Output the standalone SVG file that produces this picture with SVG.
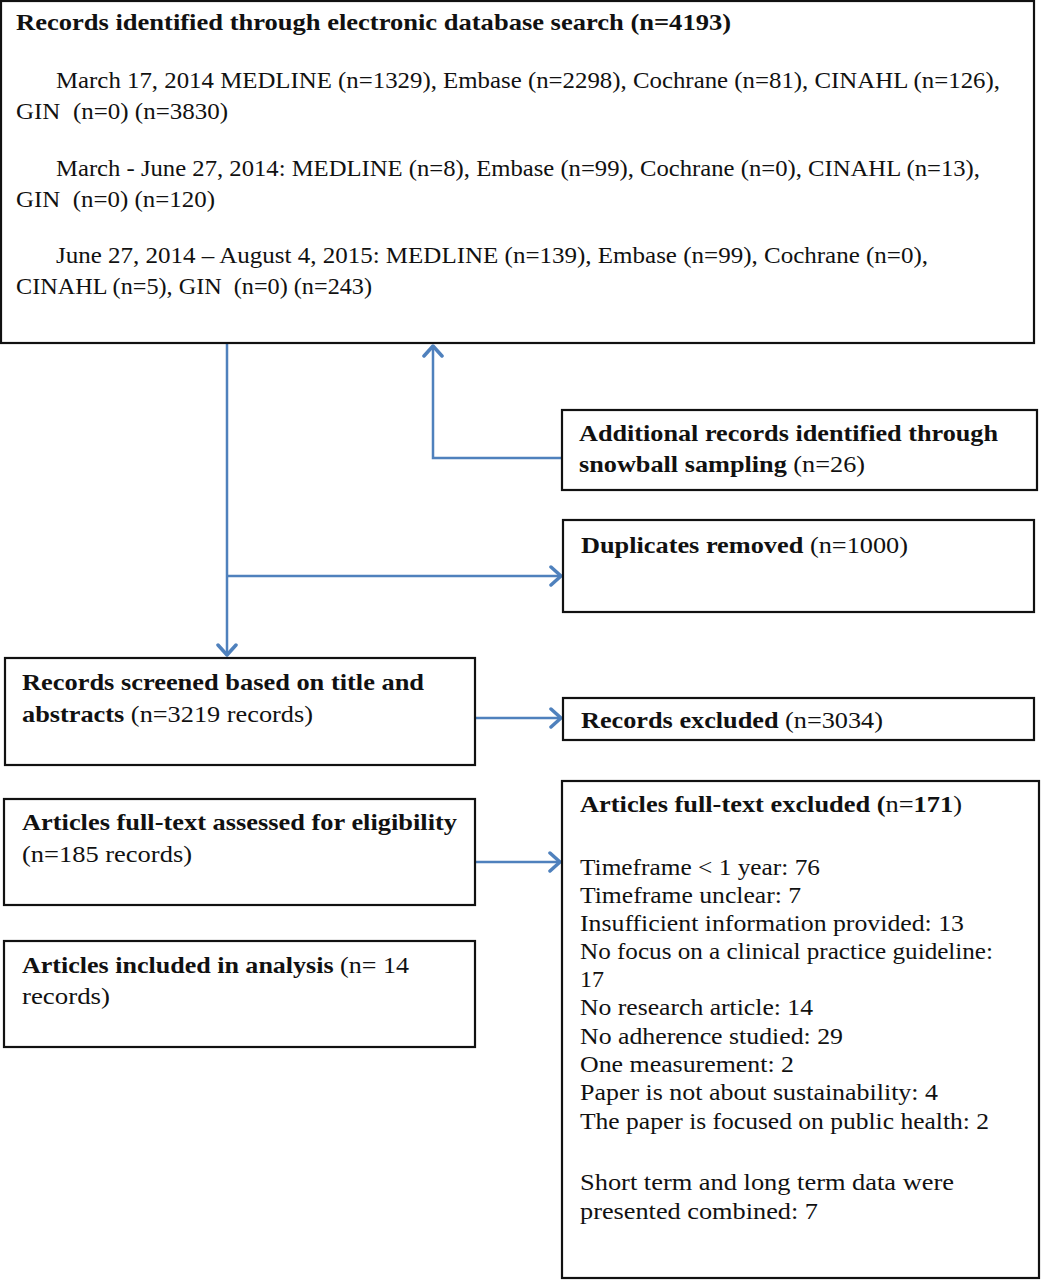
<svg xmlns="http://www.w3.org/2000/svg" width="1042" height="1280" viewBox="0 0 1042 1280">
<defs>
<style>
.box{fill:#fff;stroke:#111;stroke-width:2.2}
.t{font-family:"Liberation Serif","Times New Roman",serif;font-size:24px;fill:#111}
.b{font-weight:bold}
.con{fill:none;stroke:#4f81bd;stroke-width:2.5}
</style>
<marker id="ah" markerWidth="16" markerHeight="22" refX="13" refY="11" orient="auto" markerUnits="userSpaceOnUse">
<path d="M3,2 L13,11 L3,20" fill="none" stroke="#4f81bd" stroke-width="3.5" stroke-linecap="round" stroke-linejoin="round"/>
</marker>
</defs>
<rect width="1042" height="1280" fill="#fff"/>
<g id="connectors">
<path class="con" d="M227,343 V655" marker-end="url(#ah)"/>
<path class="con" d="M227,576 H561" marker-end="url(#ah)"/>
<path class="con" d="M562,458 H433 V346" marker-end="url(#ah)"/>
<path class="con" d="M475,718 H561" marker-end="url(#ah)"/>
<path class="con" d="M475,862 H560" marker-end="url(#ah)"/>
</g>
<g id="n-search">
<rect class="box" x="1" y="1" width="1033" height="342"/>
<text class="t b" x="16" y="30" textLength="715" lengthAdjust="spacingAndGlyphs">Records identified through electronic database search (n=4193)</text>
<text class="t" x="56" y="88" textLength="944" lengthAdjust="spacingAndGlyphs">March 17, 2014 MEDLINE (n=1329), Embase (n=2298), Cochrane (n=81), CINAHL (n=126),</text>
<text class="t" x="16" y="119" textLength="212" lengthAdjust="spacingAndGlyphs" xml:space="preserve">GIN  (n=0) (n=3830)</text>
<text class="t" x="56" y="176" textLength="924" lengthAdjust="spacingAndGlyphs">March - June 27, 2014: MEDLINE (n=8), Embase (n=99), Cochrane (n=0), CINAHL (n=13),</text>
<text class="t" x="16" y="207" textLength="199" lengthAdjust="spacingAndGlyphs" xml:space="preserve">GIN  (n=0) (n=120)</text>
<text class="t" x="56" y="263" textLength="872" lengthAdjust="spacingAndGlyphs">June 27, 2014 – August 4, 2015: MEDLINE (n=139), Embase (n=99), Cochrane (n=0),</text>
<text class="t" x="16" y="294" textLength="356" lengthAdjust="spacingAndGlyphs" xml:space="preserve">CINAHL (n=5), GIN  (n=0) (n=243)</text>
</g>
<g id="n-additional">
<rect class="box" x="562" y="410" width="475" height="80"/>
<text class="t b" x="579" y="441" textLength="419" lengthAdjust="spacingAndGlyphs">Additional records identified through</text>
<text class="t" x="579" y="472" textLength="286" lengthAdjust="spacingAndGlyphs"><tspan class="b">snowball sampling</tspan> (n=26)</text>
</g>
<g id="n-duplicates">
<rect class="box" x="563" y="520" width="471" height="92"/>
<text class="t" x="581" y="553" textLength="327" lengthAdjust="spacingAndGlyphs"><tspan class="b">Duplicates removed</tspan> (n=1000)</text>
</g>
<g id="n-screened">
<rect class="box" x="5" y="658" width="470" height="107"/>
<text class="t b" x="22" y="690" textLength="402" lengthAdjust="spacingAndGlyphs">Records screened based on title and</text>
<text class="t" x="22" y="722" textLength="291" lengthAdjust="spacingAndGlyphs"><tspan class="b">abstracts</tspan> (n=3219 records)</text>
</g>
<g id="n-excluded">
<rect class="box" x="563" y="698" width="471" height="42"/>
<text class="t" x="581" y="728" textLength="302" lengthAdjust="spacingAndGlyphs"><tspan class="b">Records excluded</tspan> (n=3034)</text>
</g>
<g id="n-assessed">
<rect class="box" x="4" y="799" width="471" height="106"/>
<text class="t b" x="22" y="830" textLength="435" lengthAdjust="spacingAndGlyphs">Articles full-text assessed for eligibility</text>
<text class="t" x="22" y="862" textLength="170" lengthAdjust="spacingAndGlyphs">(n=185 records)</text>
</g>
<g id="n-included">
<rect class="box" x="4" y="941" width="471" height="106"/>
<text class="t" x="22" y="973" textLength="387" lengthAdjust="spacingAndGlyphs"><tspan class="b">Articles included in analysis</tspan> (n= 14</text>
<text class="t" x="22" y="1004" textLength="88" lengthAdjust="spacingAndGlyphs">records)</text>
</g>
<g id="n-fulltext-excluded">
<rect class="box" x="562" y="781" width="477" height="497"/>
<text class="t b" x="580" y="812" textLength="382" lengthAdjust="spacingAndGlyphs">Articles full-text excluded (<tspan font-weight="normal">n=</tspan>171<tspan font-weight="normal">)</tspan></text>
<text class="t" x="580" y="875" textLength="240" lengthAdjust="spacingAndGlyphs">Timeframe &lt; 1 year: 76</text>
<text class="t" x="580" y="903" textLength="221" lengthAdjust="spacingAndGlyphs">Timeframe unclear: 7</text>
<text class="t" x="580" y="931" textLength="384" lengthAdjust="spacingAndGlyphs">Insufficient information provided: 13</text>
<text class="t" x="580" y="959" textLength="413" lengthAdjust="spacingAndGlyphs">No focus on a clinical practice guideline:</text>
<text class="t" x="580" y="987" textLength="24" lengthAdjust="spacingAndGlyphs">17</text>
<text class="t" x="580" y="1015" textLength="233" lengthAdjust="spacingAndGlyphs">No research article: 14</text>
<text class="t" x="580" y="1044" textLength="263" lengthAdjust="spacingAndGlyphs">No adherence studied: 29</text>
<text class="t" x="580" y="1072" textLength="214" lengthAdjust="spacingAndGlyphs">One measurement: 2</text>
<text class="t" x="580" y="1100" textLength="358" lengthAdjust="spacingAndGlyphs">Paper is not about sustainability: 4</text>
<text class="t" x="580" y="1129" textLength="409" lengthAdjust="spacingAndGlyphs">The paper is focused on public health: 2</text>
<text class="t" x="580" y="1190" textLength="374" lengthAdjust="spacingAndGlyphs">Short term and long term data were</text>
<text class="t" x="580" y="1219" textLength="238" lengthAdjust="spacingAndGlyphs">presented combined: 7</text>
</g>
</svg>
